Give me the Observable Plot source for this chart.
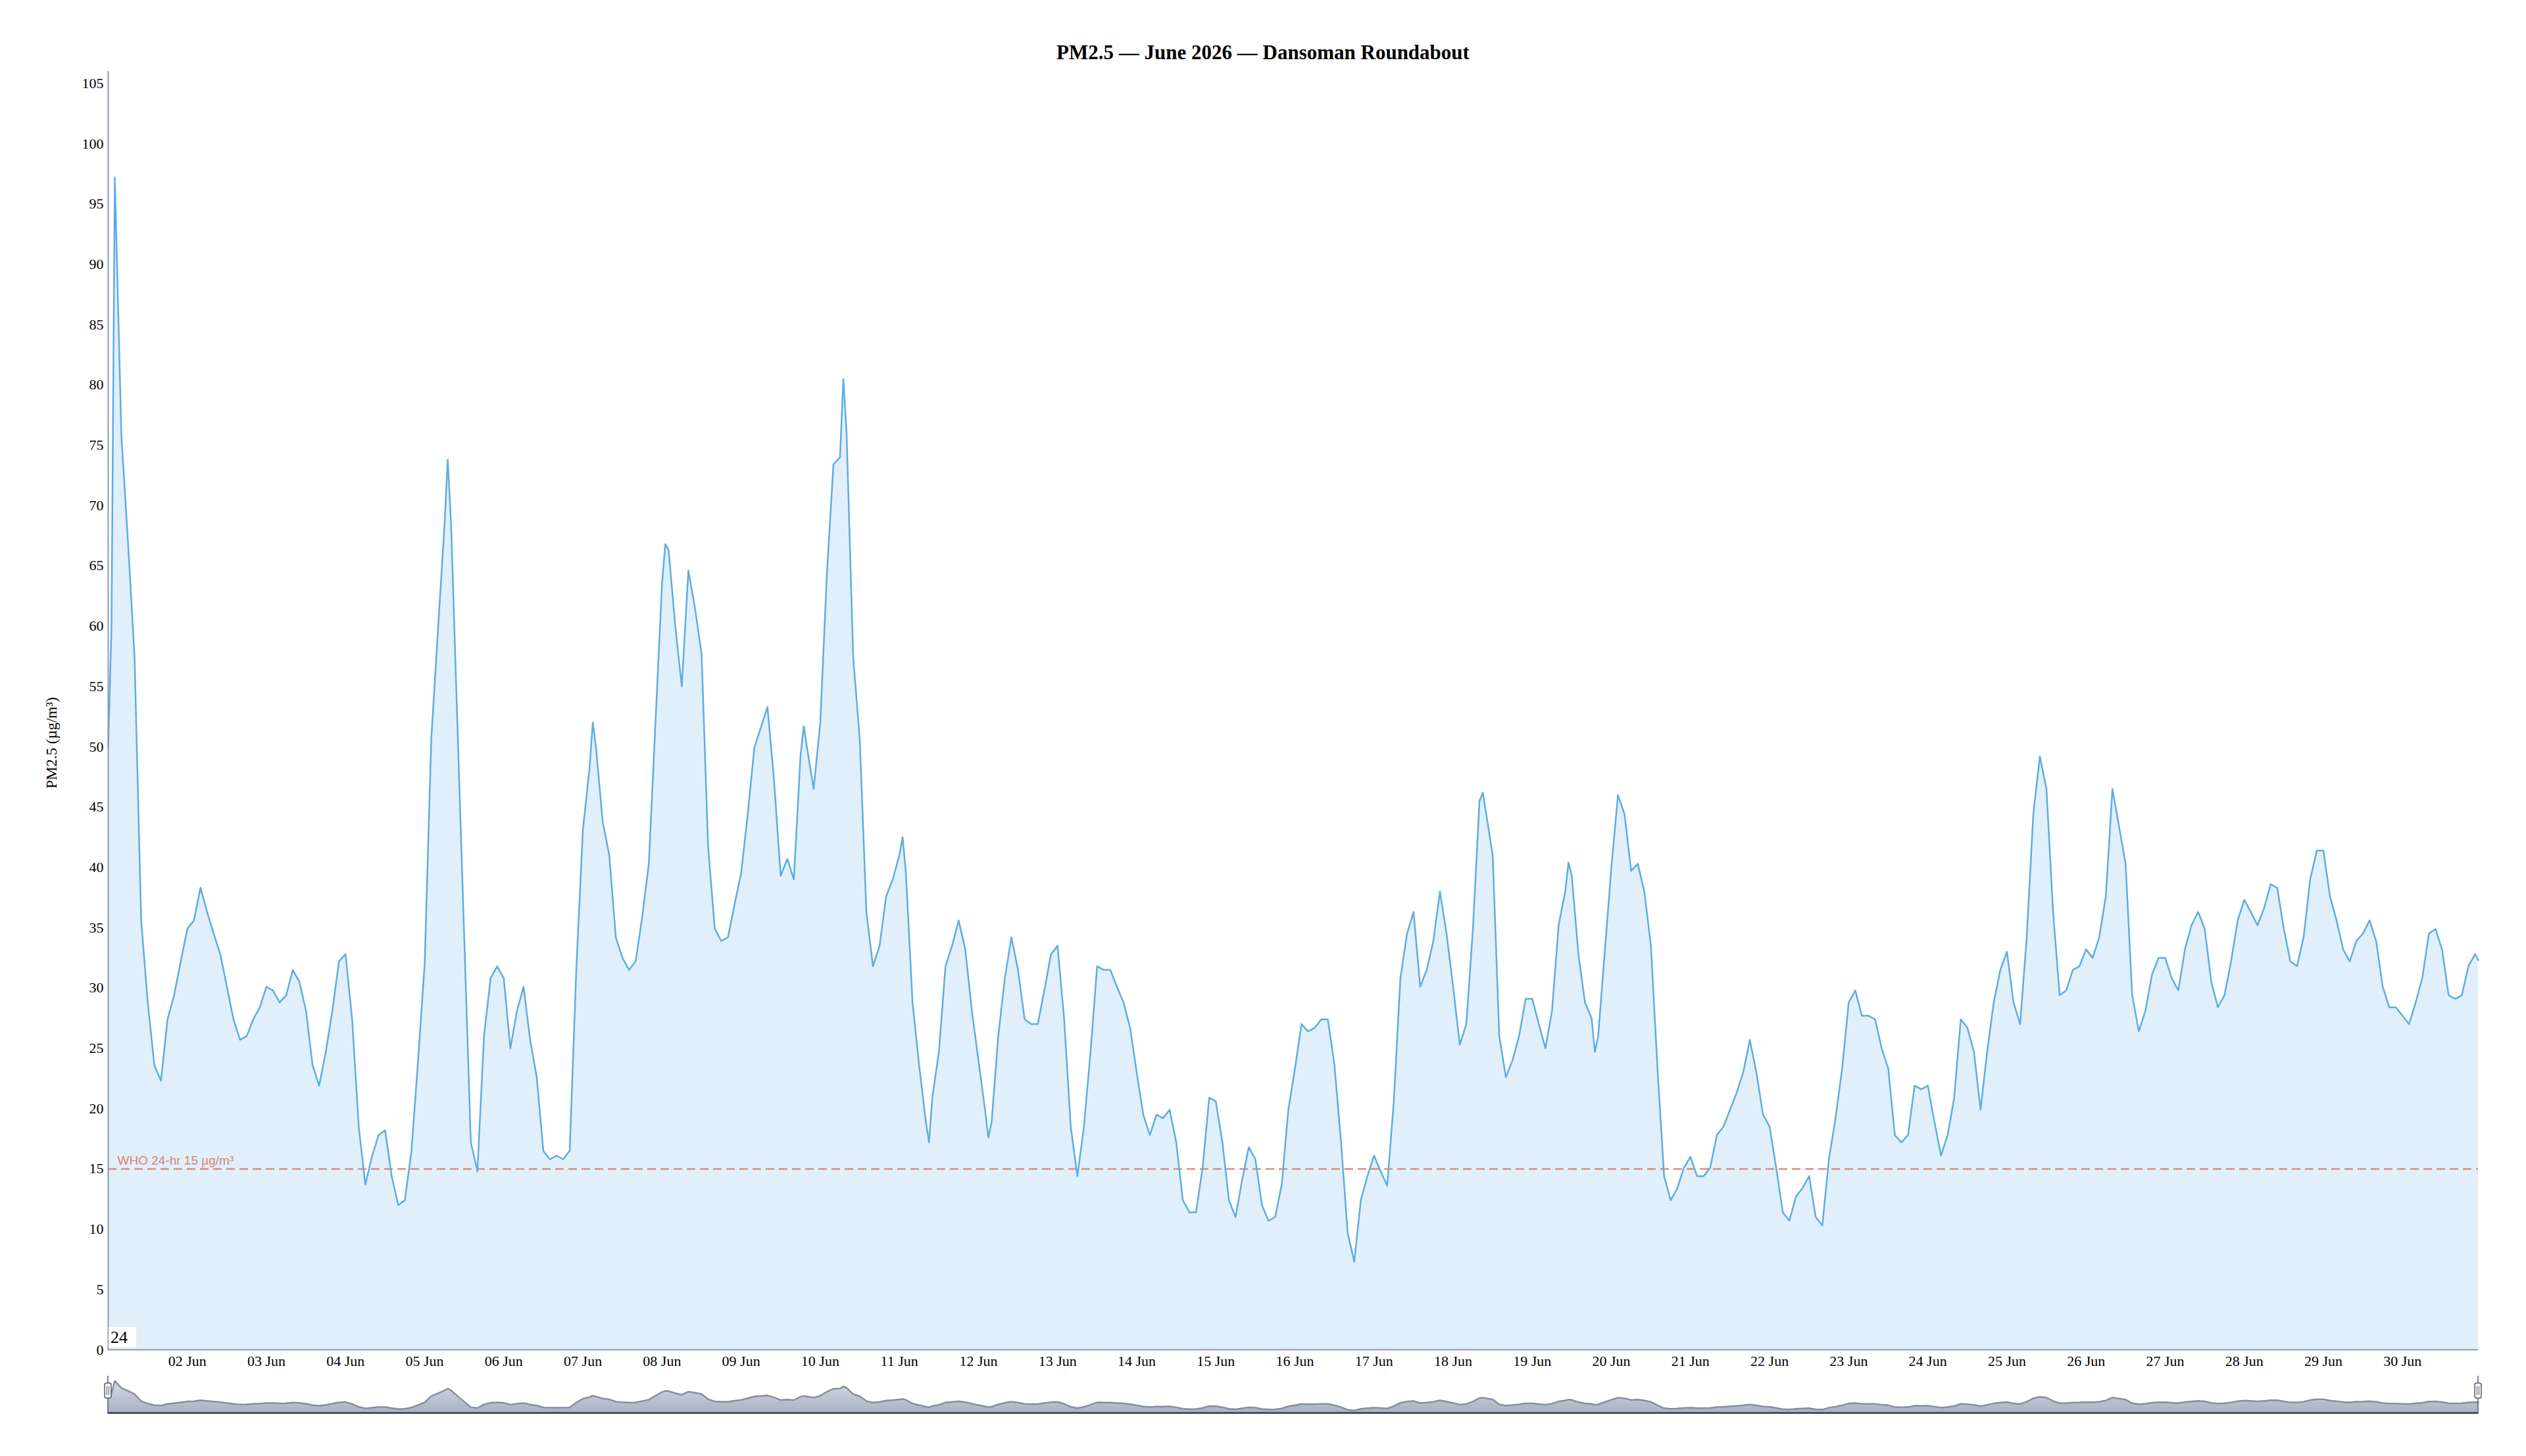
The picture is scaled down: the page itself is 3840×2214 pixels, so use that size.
<!DOCTYPE html>
<html>
<head>
<meta charset="utf-8">
<script src="https://cdn.jsdelivr.net/npm/d3@7"></script>
<script src="https://cdn.jsdelivr.net/npm/@observablehq/plot@0.6"></script>
<style>
  html, body { margin: 0; padding: 0; background: #fff; }
  #wrap { position: relative; width: 3840px; height: 2214px; overflow: hidden; }
  #title { height: 100px; box-sizing: border-box; padding-top: 62px; text-align: center;
           font: bold 31px "Liberation Serif", "Times New Roman", serif; line-height: 36px; color: #000; }
  #main, #nav { line-height: 0; }
  #badge { position: absolute; left: 165px; top: 2018px; width: 42px; height: 31px; background: #fff;
           font: 26px "Liberation Serif", "Times New Roman", serif; line-height: 31px; padding-left: 3px; box-sizing: border-box; color: #000; }
</style>
</head>
<body>
<div id="wrap">
  <div id="title">PM2.5 — June 2026 — Dansoman Roundabout</div>
  <div id="main"></div>
  <div id="nav"></div>
  <div id="badge">24</div>
</div>
<script>
// ---- data ----
const startTime = "2026-06-01T00:00:00Z";
const endTime = "2026-06-30T23:00:00Z";
const seriesName = "PM2.5 (µg/m³)";
const whoLimit = 15;
const whoLabel = "WHO 24-hr 15 µg/m³";

// hours since 1 Jun 00:00 (UTC)
const hourOffsets = [
  0,1,2,4,6,8,10,12,14,16,18,20,22,
  24,26,28,30,32,34,36,38,40,42,44,46,
  48,50,52,54,56,58,60,62,64,66,68,70,
  72,74,76,78,80,82,84,86,88,90,92,94,
  96,98,100,102,103,104,106,108,110,112,114,116,118,
  120,122,124,126,128,130,132,134,136,138,140,142,
  144,146,147,148,150,152,154,156,158,160,162,164,166,
  168,169,170,172,174,176,178,180,182,184,186,188,190,
  192,194,196,198,200,202,204,206,208,210,211,212,214,
  216,218,220,222,223,224,226,228,230,232,234,236,238,
  240,241,242,244,246,248,249,250,252,254,256,258,260,262,
  264,266,267,268,270,272,274,276,278,280,282,284,286,
  288,290,292,294,296,298,300,302,304,306,308,310,
  312,314,316,318,320,322,324,326,328,330,332,334,
  336,338,340,342,344,346,348,350,352,354,356,358,
  360,362,364,366,368,370,372,374,376,378,380,382,
  384,386,388,390,392,394,396,398,400,402,404,406,
  408,410,412,414,416,417,418,420,422,424,426,428,430,
  432,434,436,438,440,442,443,444,446,448,450,451,452,454,
  456,458,460,462,464,466,468,470,472,474,476,478,
  480,482,484,486,488,490,492,494,496,498,500,502,
  504,506,508,510,512,514,516,518,520,522,524,526,
  528,530,532,534,536,538,540,542,544,546,548,550,
  552,554,556,558,560,562,564,566,568,570,572,574,
  576,578,580,582,584,586,588,590,592,594,596,598,
  600,602,604,606,608,610,612,614,616,618,620,622,
  624,626,628,630,632,634,636,638,640,642,644,646,
  648,650,652,654,656,658,660,662,664,666,668,670,
  672,674,676,678,680,682,684,686,688,690,692,694,
  696,698,700,702,704,706,708,710,712,714,716,718,719
];

// PM2.5 values, µg/m³
const pm25 = [
  50,60,97.2,75.8,67,57.4,35.6,28.8,23.6,22.3,27.4,29.4,32.2,
  34.9,35.6,38.3,36.3,34.5,32.8,30.1,27.4,25.7,26.0,27.4,28.4,
  30.1,29.8,28.8,29.4,31.5,30.5,28.1,23.6,21.9,24.7,28.1,32.2,
  32.8,27.4,18.5,13.7,16,17.8,18.2,14.4,12.0,12.4,16.5,24.0,
  32,50.6,59.5,68.3,73.8,68.6,51.3,34.2,17.2,14.8,26.0,30.8,31.8,
  30.8,25.0,28.1,30.1,25.7,22.6,16.5,15.8,16.1,15.8,16.5,31.5,
  43.1,48.2,52.0,49.9,43.8,41.0,34.2,32.5,31.5,32.2,35.9,40.3,51.9,
  63.5,66.8,66.3,60.1,55.0,64.6,61.5,57.7,41.7,34.9,33.9,34.2,36.9,
  39.5,44.4,49.9,51.6,53.3,47.2,39.3,40.7,39.0,49.2,51.7,49.9,46.5,
  51.9,64.2,73.4,74.0,80.5,76.0,57.4,50.6,36.3,31.8,33.5,37.6,39.0,
  41.0,42.5,39.5,28.8,23.6,19.0,17.2,20.9,24.7,31.8,33.5,35.6,33.2,28.1,
  24.0,19.9,17.6,18.9,26.0,30.8,34.2,31.5,27.4,27.0,27.0,29.8,32.8,
  33.5,27.4,18.5,14.4,18.5,24.7,31.8,31.5,31.5,30.1,28.8,26.7,
  23.0,19.5,17.8,19.5,19.2,19.9,17.2,12.4,11.4,11.4,15.1,20.9,
  20.6,17.2,12.4,11.0,14.1,16.8,15.8,12.0,10.7,11.0,13.7,19.9,
  23.3,27.0,26.4,26.7,27.4,27.4,23.6,17.2,9.7,7.3,12.4,14.4,
  16.1,14.8,13.6,20.6,30.8,34.5,36.3,30.1,31.5,33.9,38.0,34.5,
  30.1,25.3,27.0,34.9,45.5,46.2,44.5,41.0,26.0,22.6,24.0,26.0,29.1,
  29.1,27.0,25.0,28.1,35.2,38.0,40.4,39.3,32.8,28.8,27.5,24.7,26.0,33.0,
  40.0,46.0,44.4,39.7,40.3,38.0,33.5,23.3,14.4,12.4,13.4,15.1,
  16.0,14.4,14.4,15.1,17.8,18.5,19.9,21.3,23.0,25.7,23.0,19.5,
  18.5,15.1,11.4,10.7,12.7,13.4,14.4,11.0,10.3,15.8,19.2,23.3,
  28.8,29.8,27.7,27.7,27.4,25.0,23.3,17.8,17.2,17.8,21.9,21.6,
  21.9,18.9,16.1,17.8,20.9,27.4,26.7,24.7,19.9,24.7,28.8,31.5,
  33.0,28.8,27.0,34.2,44.4,49.2,46.5,36.3,29.4,29.8,31.5,31.8,
  33.2,32.5,34.2,37.6,46.5,43.4,40.3,29.4,26.4,28.1,31.1,32.5,
  32.5,30.8,29.8,33.2,35.2,36.3,34.9,30.5,28.4,29.4,32.2,35.6,
  37.3,36.3,35.2,36.6,38.6,38.3,34.9,32.2,31.8,34.2,39.0,41.4,
  41.4,37.6,35.6,33.2,32.2,33.9,34.5,35.6,33.9,30.1,28.4,28.4,
  27.7,27.0,28.8,30.8,34.5,34.9,33.2,29.4,29.1,29.4,31.8,32.8,32.3
];

const yTicks = [0,5,10,15,20,25,30,35,40,45,50,55,60,65,70,75,80,85,90,95,100,105];
const xTickDays = [
  "2026-06-02","2026-06-03","2026-06-04","2026-06-05","2026-06-06","2026-06-07","2026-06-08",
  "2026-06-09","2026-06-10","2026-06-11","2026-06-12","2026-06-13","2026-06-14","2026-06-15",
  "2026-06-16","2026-06-17","2026-06-18","2026-06-19","2026-06-20","2026-06-21","2026-06-22",
  "2026-06-23","2026-06-24","2026-06-25","2026-06-26","2026-06-27","2026-06-28","2026-06-29",
  "2026-06-30"
];

// ---- build ----
const t0 = Date.parse(startTime);
const data = hourOffsets.map((h, i) => ({ t: new Date(t0 + h * 3600e3), v: pm25[i] }));
const xDomain = [new Date(startTime), new Date(endTime)];
const xTicks = xTickDays.map(d => new Date(d + "T00:00:00Z"));
const serif = '"Liberation Serif", "Times New Roman", serif';
const blue = "#5dade2";
const salmon = "#d9826f";
const axisGray = "#8e9aab";

const main = Plot.plot({
  width: 3840, height: 1985,
  marginTop: 8, marginBottom: 33, marginLeft: 164, marginRight: 73,
  style: { fontFamily: serif, fontSize: "22px", color: "#000", background: "#fff", overflow: "visible" },
  x: { type: "utc", domain: xDomain, ticks: xTicks, tickFormat: d3.utcFormat("%d %b"), tickSize: 0, tickPadding: 9, label: null },
  y: { domain: [0, 106], ticks: yTicks, tickSize: 0, tickPadding: 7, label: null },
  marks: [
    Plot.areaY(data, { x: "t", y: "v", fill: "#e1effa" }),
    Plot.ruleY([whoLimit], { stroke: salmon, strokeWidth: 2.5, strokeDasharray: "13,7", strokeOpacity: 0.9 }),
    Plot.text([whoLimit], { y: d => d, frameAnchor: "left", dx: 14, dy: -6, text: () => whoLabel,
      textAnchor: "start", lineAnchor: "bottom", fill: salmon, fontFamily: '"Liberation Sans", Arial, sans-serif', fontSize: 19 }),
    Plot.lineY(data, { x: "t", y: "v", stroke: blue, strokeWidth: 2.5 }),
    Plot.ruleY([0], { stroke: axisGray, strokeWidth: 2 }),
    Plot.ruleX([xDomain[0]], { stroke: axisGray, strokeWidth: 2 }),
    Plot.text([seriesName], { frameAnchor: "left", dx: -86, dy: 49, rotate: -90, text: d => d,
      fontSize: 23, textAnchor: "middle", lineAnchor: "middle", fill: "#000" })
  ]
});
document.getElementById("main").appendChild(main);

// navigator
const handles = (index, scales, values, dims) => {
  const g = d3.create("svg:g");
  for (const t of xDomain) {
    const cx = scales.x(t);
    g.append("line").attr("x1", cx).attr("x2", cx).attr("y1", 7).attr("y2", 65)
      .attr("stroke", "#555b66").attr("stroke-width", 1.5);
    g.append("rect").attr("x", cx - 5).attr("y", 18).attr("width", 10).attr("height", 23).attr("rx", 3)
      .attr("fill", "#f3f4f6").attr("stroke", "#555b66").attr("stroke-width", 1.5);
    g.append("line").attr("x1", cx - 1.5).attr("x2", cx - 1.5).attr("y1", 23).attr("y2", 36).attr("stroke", "#555b66").attr("stroke-width", 1);
    g.append("line").attr("x1", cx + 1.5).attr("x2", cx + 1.5).attr("y1", 23).attr("y2", 36).attr("stroke", "#555b66").attr("stroke-width", 1);
  }
  return g.node();
};

const nav = Plot.plot({
  width: 3840, height: 83,
  marginTop: 10, marginBottom: 20, marginLeft: 164, marginRight: 73,
  style: { background: "#fff", overflow: "visible" },
  x: { type: "utc", domain: xDomain, axis: null },
  y: { domain: [0, 106], axis: null },
  marks: [
    Plot.areaY(data, { x: "t", y: "v", fill: "url(#navGrad)" }),
    Plot.lineY(data, { x: "t", y: "v", stroke: "#858fa0", strokeWidth: 2.5 }),
    Plot.ruleY([0], { stroke: "#4b515c", strokeWidth: 3 }),
    handles
  ]
});
const defs = d3.select(nav).insert("defs", ":first-child");
const grad = defs.append("linearGradient").attr("id", "navGrad").attr("x1", 0).attr("y1", 0).attr("x2", 0).attr("y2", 1);
grad.append("stop").attr("offset", "0%").attr("stop-color", "#d6dae2");
grad.append("stop").attr("offset", "100%").attr("stop-color", "#a8b2c3");
document.getElementById("nav").appendChild(nav);
</script>
</body>
</html>
